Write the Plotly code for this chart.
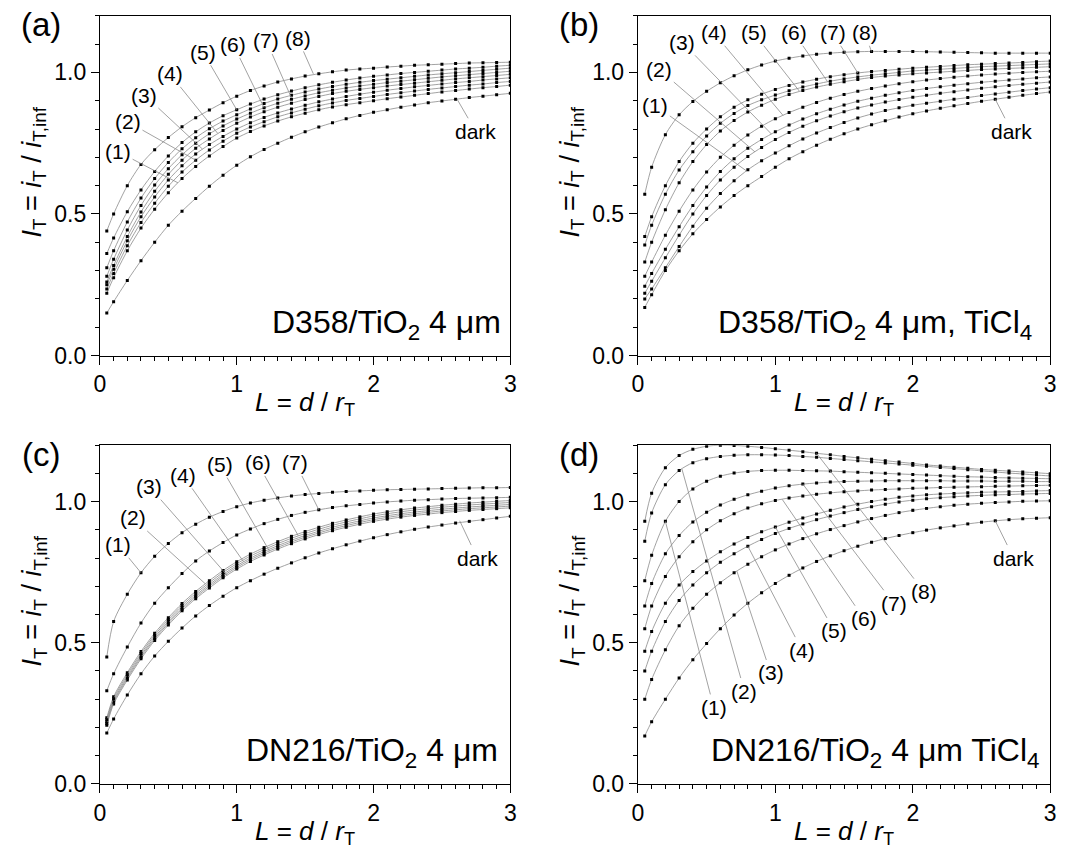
import plotly.graph_objects as go

# Normalised tip-substrate distance L = d / r_T (shared sampling for every curve)
L = [0.05, 0.1, 0.2, 0.3, 0.4, 0.5, 0.6, 0.7, 0.8, 0.9, 1.0, 1.1, 1.2, 1.3, 1.4, 1.5,
     1.6, 1.7, 1.8, 1.9, 2.0, 2.1, 2.2, 2.3, 2.4, 2.5, 2.6, 2.7, 2.8, 2.9, 3.0]

# (a) D358/TiO2 4 um
a_dark = [0.15, 0.19, 0.265, 0.335, 0.40, 0.46, 0.51, 0.555, 0.598, 0.637, 0.672, 0.702, 0.728, 0.75, 0.771, 0.79,
          0.807, 0.822, 0.836, 0.848, 0.859, 0.868, 0.877, 0.885, 0.893, 0.899, 0.905, 0.911, 0.916, 0.921, 0.926]
a1 = [0.22, 0.275, 0.37, 0.45, 0.517, 0.575, 0.625, 0.668, 0.705, 0.738, 0.768, 0.791, 0.811, 0.828, 0.843, 0.856,
      0.868, 0.878, 0.886, 0.893, 0.9, 0.907, 0.913, 0.919, 0.925, 0.931, 0.936, 0.941, 0.946, 0.95, 0.955]
a2 = [0.235, 0.29, 0.388, 0.47, 0.538, 0.598, 0.648, 0.69, 0.726, 0.757, 0.785, 0.807, 0.826, 0.843, 0.857, 0.87,
      0.882, 0.892, 0.901, 0.908, 0.915, 0.922, 0.928, 0.934, 0.94, 0.945, 0.95, 0.955, 0.959, 0.964, 0.968]
a3 = [0.25, 0.305, 0.405, 0.49, 0.56, 0.62, 0.67, 0.712, 0.745, 0.774, 0.8, 0.822, 0.841, 0.857, 0.871, 0.884,
      0.896, 0.906, 0.915, 0.923, 0.93, 0.937, 0.943, 0.949, 0.954, 0.959, 0.964, 0.968, 0.973, 0.977, 0.981]
a4 = [0.26, 0.318, 0.42, 0.507, 0.58, 0.64, 0.69, 0.732, 0.765, 0.795, 0.82, 0.842, 0.861, 0.877, 0.891, 0.904,
      0.915, 0.925, 0.933, 0.94, 0.946, 0.952, 0.957, 0.962, 0.967, 0.972, 0.977, 0.981, 0.985, 0.989, 0.993]
a5 = [0.28, 0.34, 0.443, 0.53, 0.602, 0.66, 0.709, 0.75, 0.783, 0.811, 0.835, 0.856, 0.875, 0.891, 0.905, 0.917,
      0.928, 0.937, 0.945, 0.952, 0.958, 0.964, 0.969, 0.974, 0.979, 0.984, 0.988, 0.992, 0.996, 1.0, 1.004]
a6 = [0.31, 0.37, 0.472, 0.556, 0.625, 0.682, 0.73, 0.769, 0.801, 0.828, 0.85, 0.871, 0.89, 0.906, 0.919, 0.931,
      0.941, 0.95, 0.958, 0.965, 0.971, 0.976, 0.981, 0.986, 0.991, 0.995, 0.999, 1.003, 1.007, 1.011, 1.015]
a7 = [0.36, 0.415, 0.508, 0.585, 0.65, 0.705, 0.752, 0.79, 0.821, 0.847, 0.868, 0.888, 0.906, 0.921, 0.934, 0.946,
      0.956, 0.965, 0.973, 0.98, 0.986, 0.991, 0.996, 1.0, 1.004, 1.008, 1.012, 1.015, 1.018, 1.022, 1.025]
a8 = [0.44, 0.50, 0.60, 0.675, 0.727, 0.77, 0.808, 0.84, 0.867, 0.893, 0.916, 0.936, 0.952, 0.966, 0.977, 0.987,
      0.995, 1.002, 1.008, 1.012, 1.015, 1.019, 1.022, 1.025, 1.027, 1.029, 1.031, 1.033, 1.034, 1.035, 1.036]

# (b) D358/TiO2 4 um, TiCl4
b_dark = [0.17, 0.215, 0.3, 0.37, 0.43, 0.48, 0.525, 0.565, 0.6, 0.632, 0.665, 0.695, 0.72, 0.743, 0.764, 0.783,
          0.8, 0.815, 0.829, 0.842, 0.854, 0.864, 0.873, 0.882, 0.89, 0.898, 0.905, 0.912, 0.919, 0.925, 0.931]
b1 = [0.20, 0.235, 0.31, 0.385, 0.457, 0.52, 0.572, 0.617, 0.656, 0.688, 0.715, 0.741, 0.765, 0.786, 0.805, 0.823,
      0.839, 0.853, 0.865, 0.875, 0.884, 0.891, 0.898, 0.905, 0.911, 0.918, 0.924, 0.93, 0.936, 0.941, 0.946]
b2 = [0.22, 0.262, 0.345, 0.425, 0.5, 0.565, 0.62, 0.665, 0.703, 0.735, 0.763, 0.788, 0.81, 0.829, 0.846, 0.861,
      0.874, 0.885, 0.895, 0.904, 0.912, 0.919, 0.926, 0.932, 0.938, 0.944, 0.949, 0.954, 0.958, 0.962, 0.966]
b3 = [0.245, 0.29, 0.375, 0.455, 0.53, 0.595, 0.65, 0.695, 0.732, 0.763, 0.79, 0.814, 0.835, 0.854, 0.87, 0.885,
      0.898, 0.909, 0.919, 0.928, 0.936, 0.943, 0.949, 0.955, 0.96, 0.965, 0.969, 0.973, 0.977, 0.981, 0.984]
b4 = [0.28, 0.33, 0.425, 0.51, 0.585, 0.648, 0.7, 0.743, 0.779, 0.81, 0.836, 0.858, 0.877, 0.894, 0.909, 0.922,
      0.933, 0.943, 0.952, 0.96, 0.967, 0.973, 0.978, 0.983, 0.987, 0.991, 0.994, 0.997, 1.0, 1.002, 1.004]
b5 = [0.33, 0.4, 0.515, 0.61, 0.685, 0.745, 0.793, 0.83, 0.86, 0.884, 0.905, 0.922, 0.936, 0.948, 0.958, 0.967,
      0.975, 0.982, 0.987, 0.991, 0.995, 0.998, 1.001, 1.004, 1.007, 1.01, 1.012, 1.014, 1.016, 1.018, 1.02]
b6 = [0.39, 0.46, 0.57, 0.655, 0.72, 0.775, 0.82, 0.855, 0.883, 0.903, 0.92, 0.935, 0.948, 0.959, 0.969, 0.977,
      0.984, 0.99, 0.995, 1.0, 1.005, 1.008, 1.011, 1.014, 1.017, 1.02, 1.022, 1.024, 1.026, 1.028, 1.03]
b7 = [0.42, 0.49, 0.6, 0.685, 0.75, 0.80, 0.843, 0.877, 0.903, 0.923, 0.94, 0.954, 0.966, 0.976, 0.985, 0.992,
      0.998, 1.003, 1.007, 1.011, 1.015, 1.018, 1.021, 1.024, 1.027, 1.029, 1.031, 1.033, 1.035, 1.038, 1.04]
b8 = [0.57, 0.665, 0.78, 0.85, 0.897, 0.933, 0.963, 0.988, 1.009, 1.026, 1.04, 1.05, 1.058, 1.064, 1.068, 1.071,
      1.073, 1.074, 1.074, 1.074, 1.074, 1.073, 1.072, 1.071, 1.07, 1.069, 1.068, 1.068, 1.068, 1.068, 1.068]

# (c) DN216/TiO2 4 um
c_dark = [0.18, 0.23, 0.315, 0.39, 0.453, 0.505, 0.552, 0.595, 0.632, 0.665, 0.695, 0.72, 0.743, 0.764, 0.783, 0.801,
          0.818, 0.833, 0.847, 0.86, 0.872, 0.883, 0.893, 0.902, 0.91, 0.917, 0.924, 0.93, 0.936, 0.942, 0.948]
c1 = [0.45, 0.575, 0.672, 0.748, 0.806, 0.852, 0.89, 0.92, 0.945, 0.965, 0.982, 0.995, 1.005, 1.013, 1.02, 1.025,
      1.029, 1.033, 1.036, 1.038, 1.04, 1.042, 1.043, 1.044, 1.045, 1.046, 1.047, 1.048, 1.049, 1.049, 1.05]
c2 = [0.234, 0.309, 0.394, 0.469, 0.534, 0.589, 0.639, 0.682, 0.72, 0.756, 0.787, 0.814, 0.837, 0.858, 0.877, 0.894,
      0.909, 0.923, 0.935, 0.946, 0.956, 0.964, 0.971, 0.977, 0.982, 0.987, 0.991, 0.995, 0.998, 1.001, 1.004]
c3 = [0.208, 0.283, 0.368, 0.443, 0.508, 0.563, 0.613, 0.656, 0.694, 0.73, 0.761, 0.788, 0.811, 0.832, 0.851, 0.868,
      0.883, 0.897, 0.909, 0.92, 0.93, 0.938, 0.945, 0.951, 0.956, 0.961, 0.965, 0.969, 0.972, 0.975, 0.978]
c4 = [0.22, 0.295, 0.38, 0.455, 0.52, 0.575, 0.625, 0.668, 0.706, 0.742, 0.773, 0.8, 0.823, 0.844, 0.863, 0.88,
      0.895, 0.909, 0.921, 0.932, 0.942, 0.95, 0.957, 0.963, 0.968, 0.973, 0.977, 0.981, 0.984, 0.987, 0.99]
c5 = [0.214, 0.289, 0.374, 0.449, 0.514, 0.569, 0.619, 0.662, 0.7, 0.736, 0.767, 0.794, 0.817, 0.838, 0.857, 0.874,
      0.889, 0.903, 0.915, 0.926, 0.936, 0.944, 0.951, 0.957, 0.962, 0.967, 0.971, 0.975, 0.978, 0.981, 0.984]
c6 = [0.227, 0.302, 0.387, 0.462, 0.527, 0.582, 0.632, 0.675, 0.713, 0.749, 0.78, 0.807, 0.83, 0.851, 0.87, 0.887,
      0.902, 0.916, 0.928, 0.939, 0.949, 0.957, 0.964, 0.97, 0.975, 0.98, 0.984, 0.988, 0.991, 0.994, 0.997]
c7 = [0.33, 0.39, 0.485, 0.57, 0.64, 0.695, 0.745, 0.79, 0.825, 0.855, 0.882, 0.903, 0.922, 0.937, 0.951, 0.962,
      0.971, 0.979, 0.985, 0.99, 0.995, 0.999, 1.002, 1.005, 1.007, 1.009, 1.011, 1.012, 1.013, 1.014, 1.015]

# (d) DN216/TiO2 4 um TiCl4
d_dark = [0.17, 0.22, 0.30, 0.375, 0.44, 0.497, 0.55, 0.598, 0.64, 0.677, 0.71, 0.739, 0.765, 0.788, 0.808, 0.826,
          0.842, 0.856, 0.869, 0.88, 0.89, 0.899, 0.907, 0.914, 0.921, 0.927, 0.932, 0.936, 0.939, 0.941, 0.943]
d1 = [0.72, 0.81, 0.93, 1.0, 1.045, 1.072, 1.09, 1.101, 1.107, 1.11, 1.111, 1.111, 1.11, 1.109, 1.108, 1.106,
      1.104, 1.102, 1.1, 1.098, 1.096, 1.094, 1.092, 1.09, 1.088, 1.087, 1.085, 1.084, 1.083, 1.082, 1.081]
d2 = [0.86, 0.96, 1.06, 1.11, 1.138, 1.152, 1.16, 1.164, 1.166, 1.166, 1.165, 1.163, 1.16, 1.157, 1.153, 1.149,
      1.145, 1.141, 1.137, 1.133, 1.129, 1.125, 1.121, 1.117, 1.113, 1.109, 1.105, 1.101, 1.098, 1.094, 1.091]
d3 = [0.30, 0.37, 0.475, 0.56, 0.622, 0.672, 0.713, 0.748, 0.778, 0.805, 0.829, 0.85, 0.869, 0.886, 0.901, 0.915,
      0.928, 0.94, 0.951, 0.961, 0.969, 0.976, 0.982, 0.987, 0.991, 0.994, 0.997, 0.999, 1.001, 1.002, 1.003]
d4 = [0.40, 0.47, 0.575, 0.65, 0.705, 0.748, 0.785, 0.815, 0.842, 0.866, 0.887, 0.905, 0.921, 0.936, 0.949, 0.961,
      0.972, 0.982, 0.991, 0.999, 1.005, 1.01, 1.014, 1.017, 1.02, 1.022, 1.024, 1.025, 1.027, 1.028, 1.029]
d5 = [0.47, 0.54, 0.64, 0.705, 0.752, 0.79, 0.822, 0.85, 0.873, 0.893, 0.91, 0.927, 0.942, 0.956, 0.969, 0.981,
      0.991, 1.0, 1.008, 1.015, 1.02, 1.024, 1.027, 1.029, 1.031, 1.033, 1.034, 1.035, 1.036, 1.038, 1.039]
d6 = [0.55, 0.63, 0.735, 0.805, 0.858, 0.9, 0.932, 0.957, 0.977, 0.992, 1.004, 1.013, 1.02, 1.026, 1.031, 1.035,
      1.038, 1.041, 1.043, 1.045, 1.047, 1.048, 1.05, 1.051, 1.052, 1.053, 1.054, 1.055, 1.056, 1.057, 1.058]
d7 = [0.63, 0.71, 0.815, 0.88, 0.928, 0.962, 0.988, 1.008, 1.024, 1.037, 1.048, 1.056, 1.062, 1.066, 1.069, 1.071,
      1.072, 1.073, 1.074, 1.074, 1.074, 1.074, 1.074, 1.073, 1.073, 1.073, 1.072, 1.072, 1.072, 1.071, 1.071]
d8 = [0.93, 1.03, 1.12, 1.163, 1.185, 1.196, 1.2, 1.199, 1.196, 1.192, 1.187, 1.182, 1.177, 1.171, 1.166, 1.16,
      1.155, 1.15, 1.145, 1.14, 1.135, 1.13, 1.126, 1.122, 1.118, 1.114, 1.111, 1.108, 1.105, 1.102, 1.099]

series_a = [a1, a2, a3, a4, a5, a6, a7, a8, a_dark]
series_b = [b1, b2, b3, b4, b5, b6, b7, b8, b_dark]
series_c = [c1, c2, c3, c4, c5, c6, c7, c_dark]
series_d = [d1, d2, d3, d4, d5, d6, d7, d8, d_dark]
for s in series_a + series_b + series_c + series_d:
    assert len(s) == len(L)

# Curve labels: (text, leader tip L, leader tip I, label L, label I)
labels_a = [("(1)", 0.57, 0.61, 0.133, 0.72), ("(2)", 0.70, 0.69, 0.205, 0.825),
            ("(3)", 0.75, 0.729, 0.325, 0.92), ("(4)", 0.86, 0.785, 0.511, 0.995),
            ("(5)", 1.0, 0.868, 0.754, 1.071), ("(6)", 1.2, 0.875, 0.976, 1.097),
            ("(7)", 1.4, 0.91, 1.217, 1.111), ("(8)", 1.56, 0.995, 1.446, 1.12),
            ("dark", 2.61, 0.906, 2.747, 0.792)]
labels_b = [("(1)", 0.79, 0.652, 0.127, 0.883), ("(2)", 0.852, 0.719, 0.156, 1.01),
            ("(3)", 0.972, 0.782, 0.324, 1.106), ("(4)", 1.056, 0.848, 0.552, 1.14),
            ("(5)", 1.176, 0.933, 0.842, 1.14), ("(6)", 1.38, 0.967, 1.135, 1.14),
            ("(7)", 1.6, 0.998, 1.416, 1.14), ("(8)", 1.699, 1.074, 1.651, 1.14),
            ("dark", 2.6, 0.905, 2.719, 0.792)]
labels_c = [("(1)", 0.30, 0.748, 0.133, 0.847), ("(2)", 0.77, 0.709, 0.241, 0.942),
            ("(3)", 0.93, 0.739, 0.361, 1.053), ("(4)", 1.05, 0.787, 0.607, 1.093),
            ("(5)", 1.24, 0.824, 0.875, 1.131), ("(6)", 1.45, 0.879, 1.152, 1.137),
            ("(7)", 1.6, 0.971, 1.429, 1.137), ("dark", 2.63, 0.932, 2.759, 0.8)]
labels_d = [("(1)", 0.2, 0.93, 0.552, 0.271), ("(2)", 0.32, 1.116, 0.775, 0.329),
            ("(3)", 0.72, 0.754, 0.966, 0.393), ("(4)", 0.8, 0.842, 1.194, 0.474),
            ("(5)", 1.0, 0.91, 1.429, 0.542), ("(6)", 1.05, 1.008, 1.645, 0.585),
            ("(7)", 1.2, 1.062, 1.861, 0.64), ("(8)", 1.3, 1.171, 2.082, 0.681),
            ("dark", 2.6, 0.932, 2.734, 0.8)]

titles = ["D358/TiO<sub>2</sub> 4 μm",
          "D358/TiO<sub>2</sub> 4 μm, TiCl<sub>4</sub>",
          "DN216/TiO<sub>2</sub> 4 μm",
          "DN216/TiO<sub>2</sub> 4 μm TiCl<sub>4</sub>"]
letters = ["(a)", "(b)", "(c)", "(d)"]

W, H = 1078, 857
FONT = "Liberation Sans, Arial, sans-serif"
LINE_GREY = "#8a8a8a"

# plot-area pixel boxes: (left, right, top, bottom)
boxes = [(95, 510, 16, 361), (639, 1056, 16, 361), (95, 510, 452, 796), (639, 1056, 452, 796)]
title_inset = [7, 16, 10, 9]

fig = go.Figure()
annotations = []
layout_axes = {}

panels = [(series_a, labels_a), (series_b, labels_b), (series_c, labels_c), (series_d, labels_d)]
for i, ((series, labels), box) in enumerate(zip(panels, boxes)):
    n = "" if i == 0 else str(i + 1)
    xa, ya = "x" + n, "y" + n
    left, right, top, bottom = box
    for ys in series:
        fig.add_trace(go.Scatter(x=L, y=ys, xaxis=xa, yaxis=ya, mode="lines",
                                 line=dict(color=LINE_GREY, width=0.8, shape="spline", smoothing=0.8),
                                 hoverinfo="skip", showlegend=False))
        fig.add_trace(go.Scatter(x=L, y=ys, xaxis=xa, yaxis=ya, mode="markers",
                                 marker=dict(symbol="square", size=3, color="black", line=dict(width=0)),
                                 showlegend=False))
    layout_axes["xaxis" + n] = dict(
        domain=[left / W, right / W], anchor=ya, range=[0, 3], tickvals=[0, 1, 2, 3],
        ticks="outside", ticklen=8, tickwidth=1.2, tickcolor="black",
        showline=True, linecolor="black", linewidth=1.2, mirror=True,
        showgrid=False, zeroline=False, tickfont=dict(size=23, color="black", family=FONT),
        minor=dict(dtick=0.1, ticks="outside", ticklen=4, tickwidth=1, tickcolor="black", showgrid=False))
    layout_axes["yaxis" + n] = dict(
        domain=[1 - bottom / H, 1 - top / H], anchor=xa, range=[0, 1.2], tickvals=[0, 0.5, 1.0],
        tickformat=".1f", ticks="outside", ticklen=8, tickwidth=1.2, tickcolor="black",
        showline=True, linecolor="black", linewidth=1.2, mirror=True,
        showgrid=False, zeroline=False, tickfont=dict(size=23, color="black", family=FONT),
        minor=dict(dtick=0.1, ticks="outside", ticklen=4, tickwidth=1, tickcolor="black", showgrid=False))

    for text, tx, ty, lx, ly in labels:
        annotations.append(dict(x=tx, y=ty, xref=xa, yref=ya, ax=lx, ay=ly, axref=xa, ayref=ya,
                                text=text, showarrow=True, arrowhead=0, arrowwidth=0.8,
                                arrowcolor=LINE_GREY, standoff=0, startstandoff=0,
                                font=dict(size=21, color="black", family=FONT)))

    # sample name, bottom-right inside the frame
    annotations.append(dict(x=1, y=0.03, xref=xa + " domain", yref=ya, xanchor="right", yanchor="bottom",
                            xshift=-title_inset[i], text=titles[i], showarrow=False,
                            font=dict(size=32, color="black", family=FONT)))
    # panel letter
    annotations.append(dict(x=(left - 60) / W, y=1 - (top + 9) / H, xref="paper", yref="paper",
                            xanchor="center", yanchor="middle", text=letters[i], showarrow=False,
                            font=dict(size=33, color="black", family=FONT)))
    # axis titles
    annotations.append(dict(x=(left - 67) / W, y=1 - ((top + bottom) / 2 - 14) / H, xref="paper", yref="paper",
                            xanchor="center", yanchor="middle", textangle=-90, showarrow=False,
                            text="<i>I</i><sub>T</sub> = <i>i</i><sub>T</sub> / <i>i</i><sub>T,inf</sub>",
                            font=dict(size=27, color="black", family=FONT)))
    annotations.append(dict(x=((left + right) / 2) / W, y=1 - (bottom + 49) / H, xref="paper", yref="paper",
                            xanchor="center", yanchor="middle", showarrow=False,
                            text="<i>L</i> = <i>d</i> / <i>r</i><sub>T</sub>",
                            font=dict(size=26, color="black", family=FONT)))

fig.update_layout(width=W, height=H, margin=dict(l=0, r=0, t=0, b=0), autosize=False,
                  paper_bgcolor="white", plot_bgcolor="white", showlegend=False,
                  font=dict(family=FONT, color="black"), annotations=annotations, **layout_axes)

fig.write_html("out.html")
